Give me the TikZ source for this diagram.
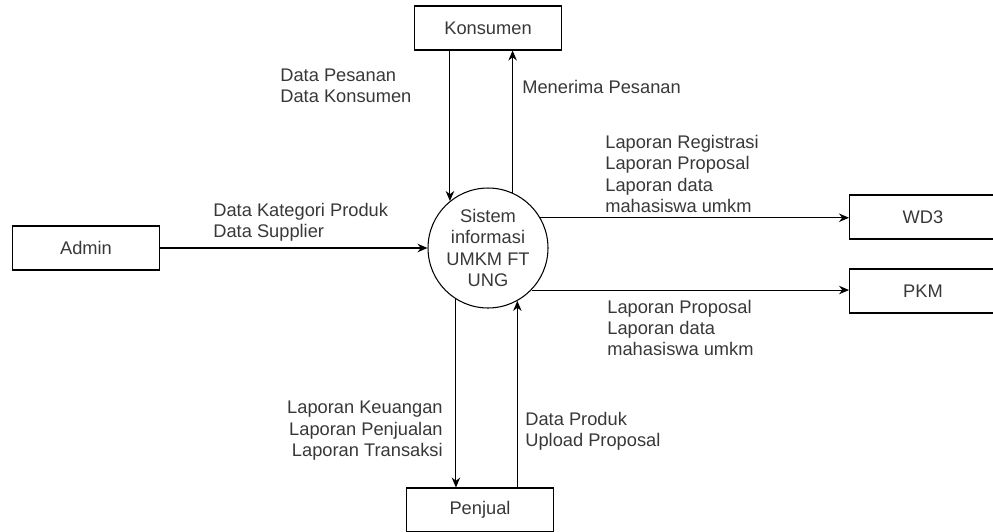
\documentclass[tikz,border=0pt]{standalone}
\usepackage{fontspec}
\setmainfont{Liberation Sans}
\usepackage{tikz}
\usetikzlibrary{positioning}
\usetikzlibrary{arrows.meta}
\definecolor{txtgray}{rgb}{0.22, 0.22, 0.22}

\begin{document}
\begin{tikzpicture}[x=0.02cm, y=-0.02cm,
  entity/.style={draw, line width=0.6pt, minimum width=2.94cm, minimum height=0.88cm, text=txtgray, font=\fontsize{10.4}{12.4}\selectfont},
  process/.style={draw, circle, line width=0.6pt, minimum size=2.4cm, inner sep=0pt, align=center, text=txtgray, font=\fontsize{10.4}{12.2}\selectfont},
  flow/.style={-{Stealth[length=0.2cm, width=0.17cm]}, line width=0.6pt},
  lbl/.style={inner sep=0pt, text=txtgray, font=\fontsize{10.4}{12.2}\selectfont}]
\useasboundingbox (0,0) rectangle (993,531);

\node(sys)[process] at (488,248) {Sistem\\informasi\\UMKM FT\\UNG};

\node(konsumen)[entity] at (488,28) {Konsumen};
\node(admin)[entity] at (86,248) {Admin};
\node(wd3)[entity] at (923,217) {WD3};
\node(pkm)[entity] at (923,291) {PKM};
\node(penjual)[entity] at (480,510) {Penjual};

\node(l1)[lbl, anchor=west, align=left] at (280,86) {Data Pesanan\\Data Konsumen};
\node(l2)[lbl, anchor=west] at (522,87) {Menerima Pesanan};
\node(l3)[lbl, anchor=west, align=left] at (213,222) {Data Kategori Produk\\Data Supplier};
\node(l4)[lbl, anchor=west, align=left] at (605,174) {Laporan Registrasi\\Laporan Proposal\\Laporan data\\mahasiswa umkm};
\node(l5)[lbl, anchor=west, align=left] at (607,328) {Laporan Proposal\\Laporan data\\mahasiswa umkm};
\node(l6)[lbl, anchor=east, align=right] at (443,431) {Laporan Keuangan\\Laporan Penjualan\\Laporan Transaksi};
\node(l7)[lbl, anchor=west, align=left] at (525,431) {Data Produk\\Upload Proposal};

\draw[flow] (konsumen.south -| sys.129) -- (sys.129);
\draw[flow] (sys.66) -- (sys.66 |- konsumen.south);
\draw[flow] (admin) -- (sys);
\draw[flow] (sys.30) -- (sys.30 -| wd3.west);
\draw[flow] (sys.-44) -- (sys.-44 -| pkm.west);
\draw[flow] (sys.-122) -- (sys.-122 |- penjual.north);
\draw[flow] (sys.-61 |- penjual.north) -- (sys.-61);
\end{tikzpicture}
\end{document}
